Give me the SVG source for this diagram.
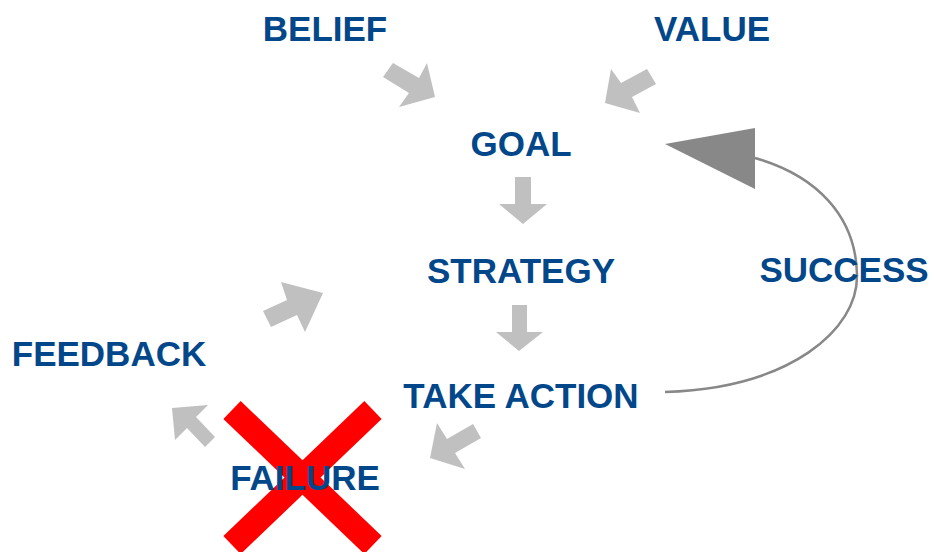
<svg xmlns="http://www.w3.org/2000/svg" width="934" height="552" viewBox="0 0 934 552">
<style>
.lbl{font-family:"Liberation Sans",Arial,sans-serif;font-weight:bold;font-size:35px;fill:#02478a;text-anchor:middle}
.blk{fill:#c0c0c0;stroke:none}
.loop{fill:none;stroke:#888888;stroke-width:2.5}
.head{fill:#888888}
.x{stroke:#ff0000;stroke-width:25;stroke-linecap:butt}
</style>
<rect width="934" height="552" fill="#ffffff"/>
<g id="connectors">
<polygon class="blk" points="393,63 419,78 427,63 435,97 399,107 409,93 383,77"/>
<polygon class="blk" points="647,69 656,84 632,97 640,113 605,103 611,69 621,83"/>
<polygon class="blk" points="515,177 531,177 531,204 547,204 523,224 499,204 515,204"/>
<polygon class="blk" points="512,305 527,305 527,332 543,332 519,351 496,332 512,332"/>
<polygon class="blk" points="263,311 287,300 281,282 323,293 305,332 297,315 271,327"/>
<polygon class="blk" points="172,408 208,405 196,417 215,437 205,447 187,428 175,440"/>
<polygon class="blk" points="430,458 437,423 447,439 473,424 481,438 455,453 465,469"/>
<path class="loop" d="M665,392 C790,388 858,330 857,275 C856,215 815,175 755,158"/>
<polygon class="head" points="665,144 755,128 755,189"/>
</g>
<g id="belief"><text class="lbl" x="325" y="41">BELIEF</text></g>
<g id="value"><text class="lbl" x="712" y="41">VALUE</text></g>
<g id="goal"><text class="lbl" x="521" y="156">GOAL</text></g>
<g id="strategy"><text class="lbl" x="521" y="283">STRATEGY</text></g>
<g id="success"><text class="lbl" x="844" y="282">SUCCESS</text></g>
<g id="feedback"><text class="lbl" x="109" y="366">FEEDBACK</text></g>
<g id="take-action"><text class="lbl" x="521" y="408">TAKE ACTION</text></g>
<g id="failure">
<line class="x" x1="232" y1="410" x2="373" y2="545"/>
<line class="x" x1="373" y1="410" x2="232" y2="545"/>
<text class="lbl" x="305" y="490">FAILURE</text>
</g>
</svg>
